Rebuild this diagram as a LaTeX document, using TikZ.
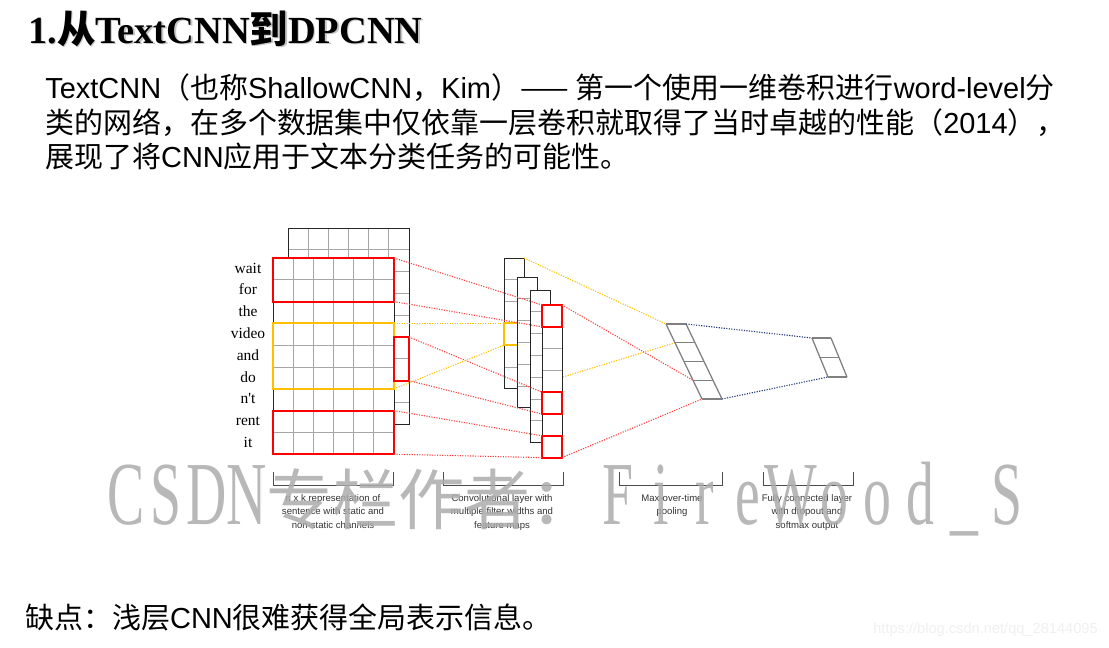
\documentclass[tikz,border=0pt]{standalone}
\usepackage{graphicx}
\usepackage{fontspec}
\setmainfont{Liberation Sans}
\newfontfamily\serifl{Liberation Serif}
\newfontfamily\cjk{Noto Sans CJK SC}
\definecolor{hlyellow}{RGB}{255,192,0}
\definecolor{linkblue}{RGB}{31,56,120}
\definecolor{wmgray}{RGB}{172,172,172}
\newcommand{\wl}[2][1.0cm]{\makebox[#1]{\scalebox{0.62}[1]{#2}}}

\begin{document}
\begin{tikzpicture}[
    x=0.025cm, y=-0.025cm,
    cellline/.style={draw=gray!70, line width=0.6pt},
    frame/.style={draw=black!85, line width=0.7pt},
    hlred/.style={draw=red, line width=1.3pt},
    hlyel/.style={draw=hlyellow, line width=1.3pt},
    redlink/.style={red!75, densely dotted, line width=0.8pt},
    yellink/.style={hlyellow, densely dotted, line width=0.8pt},
    bluelink/.style={linkblue, densely dotted, line width=0.8pt},
    slant/.style={gray, line width=0.9pt},
    word/.style={font=\serifl\fontsize{11}{11}\selectfont, anchor=base},
    caption/.style={font=\fontsize{6.8}{9.6}\selectfont, align=center, text=black!80, anchor=north, inner sep=0pt},
    brace/.style={black!70, line width=0.6pt},
    body/.style={font=\fontsize{20.6}{20.6}\selectfont, anchor=base west, inner sep=0pt},
    headline/.style={font=\bfseries\serifl\fontsize{27.3}{27.3}\selectfont, anchor=base west, inner sep=0pt}
]
\fill[white] (0,0) rectangle (1109,647);
\useasboundingbox (0,0) rectangle (1109,647);

% title and text
\node[headline, text=gray!45] (titleshadow) at (29.5,44.5) {1.{\cjk 从}TextCNN{\cjk 到}DPCNN};
\node[headline] (title) at (28,43) {1.{\cjk 从}TextCNN{\cjk 到}DPCNN};
\node[body] (line1) at (45,98) {TextCNN{\cjk （也称}ShallowCNN{\cjk ，}Kim{\cjk ）—— 第一个使用一维卷积进行}word-level{\cjk 分}};
\node[body] (line2) at (45,133) {{\cjk 类的网络，在多个数据集中仅依靠一层卷积就取得了当时卓越的性能（}2014{\cjk ），}};
\node[body] (line3) at (45,167) {{\cjk 展现了将}CNN{\cjk 应用于文本分类任务的可能性。}};
\node[body] (drawback) at (25,628) {{\cjk 缺点：浅层}CNN{\cjk 很难获得全局表示信息。}};

% sentence matrix, two channels
\filldraw[fill=white, frame] (288,228) rectangle (409,424.2);
\foreach \c in {1,...,5} \draw[cellline] (288+20.17*\c,228) -- (288+20.17*\c,424.2);
\foreach \r in {1,...,8} \draw[cellline] (288,228+21.8*\r) -- (409,228+21.8*\r);
\draw[frame] (288,228) rectangle (409,424.2);
\filldraw[fill=white, frame] (273,258) rectangle (394,454.2);
\foreach \c in {1,...,5} \draw[cellline] (273+20.17*\c,258) -- (273+20.17*\c,454.2);
\foreach \r in {1,...,8} \draw[cellline] (273,258+21.8*\r) -- (394,258+21.8*\r);
\draw[frame] (273,258) rectangle (394,454.2);
\foreach \i in {0,...,9} {
    \coordinate (s\i) at (394,258+21.8*\i);
    \coordinate (b\i) at (409,228+21.8*\i);
}
\draw[hlred] (273,258) rectangle (s2);
\draw[hlyel] (273,258+21.8*3) rectangle (s6);
\draw[hlred] (273,258+21.8*7) rectangle (s9);
\draw[hlred] (394,228+21.8*5) rectangle (b7);
\foreach \w [count=\i from 0] in {wait,for,the,video,and,do,n't,rent,it}
    \node[word] (w\i) at (248,273+21.8*\i) {\w};

% feature maps
\foreach \k/\l/\t/\n in {1/504/258/6,2/517/277/6,3/530/290/7,4/542/305/7} {
    \foreach \i in {0,...,\n} {
        \coordinate (m\k-\i) at (\l,\t+21.8*\i);
        \coordinate (n\k-\i) at (\l+20,\t+21.8*\i);
    }
}
% pooling and output
\foreach \i in {0,...,4} {
    \coordinate (p\i) at (666+9*\i,324+18.75*\i);
    \coordinate (pr\i) at (686+9*\i,324+18.75*\i);
}
\foreach \i in {0,...,2} {
    \coordinate (q\i) at (812+8*\i,338+19.5*\i);
    \coordinate (qr\i) at (831+8*\i,338+19.5*\i);
}

\filldraw[fill=white, frame] (m1-0) rectangle (n1-6);
\foreach \i in {1,...,6} \draw[cellline] (m1-\i) -- (n1-\i);
\draw[frame] (m1-0) rectangle (n1-6);
\draw[hlyel] (m1-3) rectangle (n1-4);
\draw[yellink] (n1-6) -- (p1);
\foreach \k/\n in {2/6,3/7,4/7} {
    \filldraw[fill=white, frame] (m\k-0) rectangle (n\k-\n);
    \foreach \i in {1,...,\n} \draw[cellline] (m\k-\i) -- (n\k-\i);
    \draw[frame] (m\k-0) rectangle (n\k-\n);
}
\draw[hlred] (m4-0) rectangle (n4-1);
\draw[hlred] (m4-4) rectangle (n4-5);
\draw[hlred] (m4-6) rectangle (n4-7);

\foreach \i in {0,...,4} \draw[slant] (p\i) -- (pr\i);
\draw[slant] (p0) -- (p4);
\draw[slant] (pr0) -- (pr4);
\foreach \i in {0,...,2} \draw[slant] (q\i) -- (qr\i);
\draw[slant] (q0) -- (q2);
\draw[slant] (qr0) -- (qr2);

% connections
\draw[redlink] (s0) -- (m4-0);
\draw[redlink] (s2) -- (m4-1);
\draw[redlink] (b5) -- (m4-4);
\draw[redlink] (b7) -- (m4-5);
\draw[redlink] (s7) -- (m4-6);
\draw[redlink] (s9) -- (m4-7);
\draw[yellink] (s3) -- (m1-3);
\draw[yellink] (s6) -- (m1-4);
\draw[yellink] (n1-0) -- (p0);
\draw[redlink] (n4-0) -- (p3);
\draw[redlink] (n4-7) -- (p4);
\draw[bluelink] (pr0) -- (q0);
\draw[bluelink] (pr4) -- (q2);

% brackets and captions
\draw[brace] (273,472) |- (393,485) -- (393,472);
\draw[brace] (443,472) |- (563,485) -- (563,472);
\draw[brace] (619,472) |- (722,485) -- (722,472);
\draw[brace] (763,472) |- (853,485) -- (853,472);
\node[caption] (reprlab) at (333,494) {n x k representation of\\sentence with static and\\non-static channels};
\node[caption] (convlab) at (502,494) {Convolutional layer with\\multiple filter widths and\\feature maps};
\node[caption] (poollab) at (672,494) {Max-over-time\\pooling};
\node[caption] (fclab) at (807,494) {Fully connected layer\\with dropout and\\softmax output};

% watermark
\node[anchor=base west, inner sep=0pt, text=wmgray, opacity=0.85,
      font=\serifl\fontsize{64}{64}\selectfont] (mark) at (106,524)
    {\wl{C}\wl{S}\wl{D}\wl{N}{\cjk\fontsize{47}{47}\selectfont 专栏作者：}\wl[1.08cm]{F}\wl[1.08cm]{i}\wl[1.08cm]{r}\wl[1.08cm]{e}\wl[1.08cm]{W}\wl[1.08cm]{o}\wl[1.08cm]{o}\wl[1.08cm]{d}\wl[1.08cm]{\_}\wl[1.08cm]{S}};
\node[anchor=base east, inner sep=0pt, text=gray!12, font=\fontsize{10.4}{10.4}\selectfont] (url) at (1098,633) {https://blog.csdn.net/qq\_28144095};
\end{tikzpicture}
\end{document}
